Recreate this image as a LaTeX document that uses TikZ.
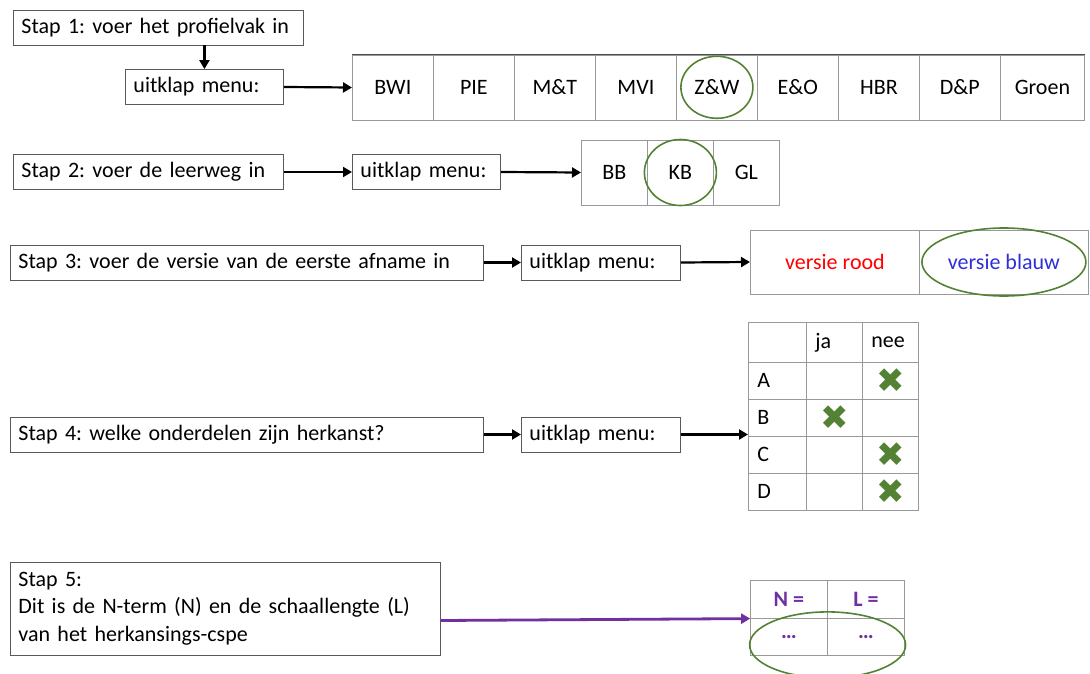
\documentclass[tikz,border=0pt]{standalone}
\usepackage{fontspec}
\setmainfont{Carlito}
\newfontfamily\symfont{DejaVu Sans}
\usetikzlibrary{matrix,positioning,arrows.meta}
\definecolor{keusgroen}{HTML}{548235}
\definecolor{paars}{HTML}{7030A0}
\definecolor{blauw}{HTML}{2F2FD8}
\newcommand{\kruis}{{\symfont\fontsize{34}{34}\selectfont\color{keusgroen}✖}}
\frenchspacing

\begin{document}
\begin{tikzpicture}[x=1pt, y=-1pt, font=\fontsize{22}{27.5}\selectfont,
  stapbox/.style={draw=black!65, line width=0.9pt, anchor=west, align=left, inner xsep=8pt, minimum height=35pt},
  pijl/.style={-{Triangle[length=9pt,width=10pt]}, line width=2.2pt},
  keuze/.style={draw=keusgroen, line width=1.6pt}]
  \useasboundingbox (0,0) rectangle (1090,674);

  % stap 1: profielvak
  \node[stapbox, text width=274pt] (stap1) at (13,27.5) {Stap 1: voer het profielvak in};
  \node[stapbox, text width=142pt] (menu1) at (125,87) {uitklap menu:};
  \matrix (R)[matrix of nodes, anchor=west, draw=black!70, inner sep=0pt, nodes={draw=black!40, inner sep=3pt, minimum width=81pt, minimum height=65pt}, column sep=-\pgflinewidth, column 9/.style={nodes={minimum width=84pt}}] at (352,87.5)
    {BWI & PIE & M\&T & MVI & Z\&W & E\&O & HBR & D\&P & Groen\\};
  \draw[pijl] (menu1.north |- stap1.south) -- (menu1.north);
  \draw[pijl] (menu1.east) -- (R.west);
  \draw[keuze] (R-1-5) ellipse [x radius=36pt, y radius=31pt];

  % stap 2: leerweg
  \node[stapbox, text width=254pt] (stap2) at (13,172) {Stap 2: voer de leerweg in};
  \node[stapbox, text width=132pt] (menu2) at (352,172) {uitklap menu:};
  \matrix (L)[matrix of nodes, anchor=west, draw=black!70, inner sep=0pt, nodes={draw=black!40, inner sep=3pt, minimum width=66pt, minimum height=65pt}, column sep=-\pgflinewidth] at (581,172.5)
    {BB & KB & GL\\};
  \draw[pijl] (stap2.east) -- (menu2.west);
  \draw[pijl] (menu2.east) -- (L.west);
  \draw[keuze] (L-1-2) ellipse [x radius=36pt, y radius=33pt];

  % stap 3: versie
  \node[stapbox, text width=457pt] (stap3) at (10,262.5) {Stap 3: voer de versie van de eerste afname in};
  \node[stapbox, text width=143pt] (menu3) at (521,262.5) {uitklap menu:};
  \matrix (V)[matrix of nodes, anchor=west, draw=black!70, inner sep=0pt, nodes={draw=black!40, inner sep=3pt, minimum width=169pt, minimum height=64pt}, column sep=-\pgflinewidth] at (750,262)
    {|[text=red]| versie rood & |[text=blauw]| versie blauw\\};
  \draw[pijl] (stap3.east) -- (menu3.west);
  \draw[pijl] (menu3.east) -- (V.west);
  \draw[keuze] (V-1-2) ellipse [x radius=82pt, y radius=34pt];

  % stap 4: herkansing
  \node[stapbox, text width=457pt] (stap4) at (10,434.5) {Stap 4: welke onderdelen zijn herkanst?};
  \node[stapbox, text width=143pt] (menu4) at (521,434.5) {uitklap menu:};
  \matrix (H)[matrix of nodes, nodes in empty cells, anchor=north west, inner sep=0pt, nodes={draw=black!40, anchor=center, inner xsep=9pt, inner ysep=3pt, minimum height=37pt, align=left}, column sep=-\pgflinewidth, row sep=-\pgflinewidth, column 1/.style={nodes={text width=40pt}}, column 2/.style={nodes={text width=38pt}}, column 3/.style={nodes={text width=38pt}}, row 1/.style={nodes={minimum height=40pt}}] at (748,322)
    {  & ja & nee \\
     A &  & |[align=center]| \kruis \\
     B & |[align=center]| \kruis &  \\
     C &  & |[align=center]| \kruis \\
     D &  & |[align=center]| \kruis \\};
  \draw[pijl] (stap4.east) -- (menu4.west);
  \draw[pijl] (menu4.east) -- (menu4.east -| H.west);

  % stap 5: N-term en schaallengte
  \node[stapbox, text width=414pt, minimum height=93pt] (stap5) at (10,608.5) {Stap 5:\\Dit is de N-term (N) en de schaallengte (L)\\van het herkansings-cspe};
  \matrix (T)[matrix of nodes, anchor=north west, inner sep=0pt, nodes={draw=black!40, anchor=center, text=paars, inner sep=3pt, minimum width=77pt, minimum height=37pt}, column sep=-\pgflinewidth, row sep=-\pgflinewidth, row 1/.style={nodes={minimum height=38pt}}] at (750,580)
    {\textbf{N =} & \textbf{L =} \\
     \textbf{…} & \textbf{…} \\};
  \draw[pijl, draw=paars, line width=2.8pt] ([yshift=-12pt]stap5.east) -- (T-1-1.south west);
  \draw[keuze] ([yshift=-8pt]T-2-1.east) ellipse [x radius=78pt, y radius=33pt];
\end{tikzpicture}
\end{document}
